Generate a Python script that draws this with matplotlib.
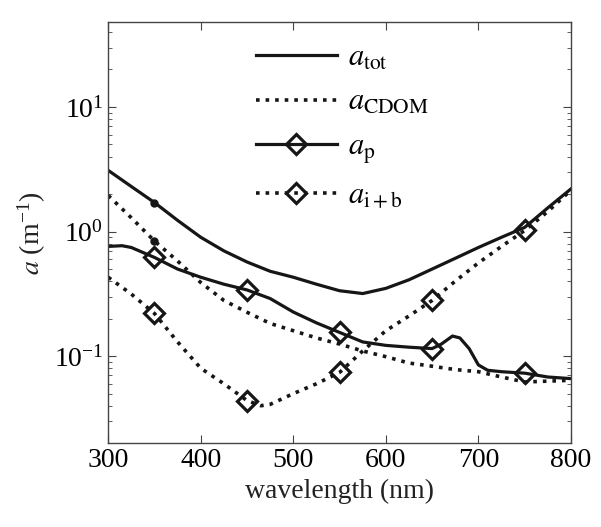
import numpy as np
import matplotlib
matplotlib.use("Agg")
import matplotlib.pyplot as plt

plt.rcParams['font.family'] = ['Liberation Serif', 'DejaVu Serif']
plt.rcParams['mathtext.fontset'] = 'stix'

# absorption spectra (m^-1)
wl_tot = [300, 325, 350, 375, 400, 425, 450, 475, 500, 525, 550, 575, 600,
          625, 650, 675, 700, 725, 750, 775, 800]
a_tot = [3.1, 2.3, 1.71, 1.23, 0.90, 0.70, 0.57, 0.48, 0.43, 0.378, 0.335, 0.318, 0.35,
         0.41, 0.50, 0.61, 0.745, 0.90, 1.08, 1.55, 2.2]

wl_cdom = [300, 325, 350, 375, 400, 425, 450, 475, 500, 525, 550, 575, 600,
           625, 650, 675, 700, 725, 750, 775, 800]
a_cdom = [1.95, 1.29, 0.84, 0.58, 0.39, 0.28, 0.225, 0.183, 0.16, 0.14, 0.125, 0.11, 0.099,
          0.088, 0.083, 0.078, 0.075, 0.068, 0.062, 0.063, 0.064]

wl_p = [300, 315, 325, 350, 375, 400, 425, 450, 475, 500, 525, 550, 575, 600,
        625, 650, 660, 672, 680, 690, 700, 710, 725, 750, 775, 800]
a_p = [0.76, 0.77, 0.745, 0.62, 0.50, 0.43, 0.378, 0.34, 0.29, 0.226, 0.185, 0.155, 0.13, 0.122,
       0.118, 0.115, 0.125, 0.145, 0.14, 0.115, 0.085, 0.077, 0.075, 0.073, 0.068, 0.066]

wl_ib = [300, 325, 350, 375, 400, 425, 450, 465, 475, 500, 525, 550, 575, 600,
         625, 650, 675, 700, 725, 750, 775, 800]
a_ib = [0.43, 0.315, 0.22, 0.13, 0.08, 0.06, 0.044, 0.040, 0.041, 0.05, 0.06, 0.074, 0.11, 0.16,
        0.21, 0.28, 0.40, 0.56, 0.76, 1.02, 1.45, 2.15]

diamond_wl = [350, 450, 550, 650, 750]
dot_wl = [350]

col = '#161616'

fig = plt.figure(figsize=(6.01, 5.27), dpi=100)
ax = fig.add_axes([0.18, 0.159, 0.77, 0.799])

def mask(wl, keep):
    return [w in keep for w in wl]

ax.plot(wl_tot, a_tot, '-', color=col, lw=2.3, label=r'$a_{\mathrm{tot}}$')
ax.plot(wl_cdom, a_cdom, ':', color=col, lw=2.6, label=r'$a_{\mathrm{CDOM}}$')
ax.plot(wl_p, a_p, '-', color=col, lw=2.3, marker='D', ms=10, mfc='none', mew=2.3,
        markevery=mask(wl_p, diamond_wl), label=r'$a_{\mathrm{p}}$')
ax.plot(wl_ib, a_ib, ':', color=col, lw=2.6, marker='D', ms=10, mfc='none', mew=2.3,
        markevery=mask(wl_ib, diamond_wl), label=r'$a_{\mathrm{i+b}}$')
# small dots on a_tot and a_CDOM (not in legend)
ax.plot(wl_tot, a_tot, linestyle='none', color=col, marker='o', ms=5,
        markevery=mask(wl_tot, dot_wl))
ax.plot(wl_cdom, a_cdom, linestyle='none', color=col, marker='o', ms=5,
        markevery=mask(wl_cdom, dot_wl))

ax.set_yscale('log')
ax.set_xlim(300, 800)
ax.set_ylim(0.02, 48)
ax.set_xticks([300, 400, 500, 600, 700, 800])
ax.tick_params(which='both', direction='in', top=True, right=True, labelsize=20,
               color='#444444')
ax.tick_params(which='major', length=6)
ax.tick_params(which='minor', length=3)
for s in ax.spines.values():
    s.set_color('#444444')
    s.set_linewidth(1.0)

ax.set_xlabel('wavelength (nm)', fontsize=20, color='#222222')
ax.set_ylabel(r'$a$ (m$^{\mathregular{-1}}$)', fontsize=20, color='#222222')

leg = ax.legend(loc='upper left', bbox_to_anchor=(0.26, 1.015), frameon=False,
                fontsize=22, handlelength=2.65, labelspacing=0.52, handletextpad=0.35)

fig.savefig('out.png', dpi=100)
